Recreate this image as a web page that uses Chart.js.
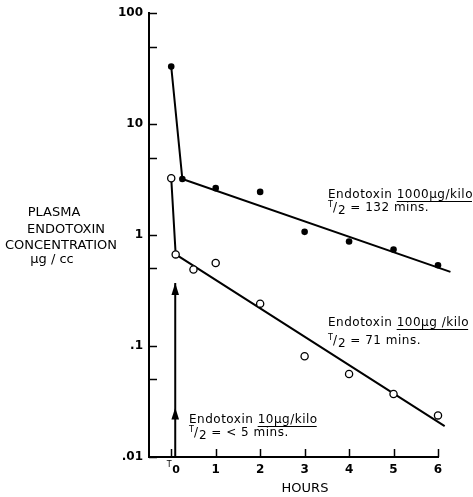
<!DOCTYPE html>
<html>
<head>
<meta charset="utf-8">
<script src="https://cdn.jsdelivr.net/npm/chart.js@4"></script>
<style>
  body { margin: 0; background: #fff; }
  #wrap { width: 473px; height: 497px; }
</style>
</head>
<body>
<div id="wrap"><canvas id="chart" width="473" height="497"></canvas></div>
<script>
// Endotoxin 1000 ug/kilo (filled dots)
const hours1000 = [0, 0.25, 1, 2, 3, 4, 5, 6];
const conc1000 = [33, 3.2, 2.65, 2.45, 1.07, 0.875, 0.74, 0.535];
// Endotoxin 100 ug/kilo (open circles)
const hours100 = [0, 0.1, 0.5, 1, 2, 3, 4, 5, 6];
const conc100 = [3.25, 0.67, 0.49, 0.56, 0.241, 0.081, 0.056, 0.037, 0.0237];
// fitted lines
const fitHours1000 = [0, 0.25, 6.28];
const fitConc1000 = [33, 3.2, 0.466];
const fitHours100 = [0, 0.1, 6.15];
const fitConc100 = [3.25, 0.67, 0.019];
// Endotoxin 10 ug/kilo (arrow)
const arrowHours = [0.09, 0.09];
const arrowConc = [0.01, 0.37];
const arrowTips = [0.37, 0.028];

const xTickValues = [0, 1, 2, 3, 4, 5, 6];
const yTickValues = [100, 50, 10, 5, 1, 0.5, 0.1, 0.05, 0.01];
const yTickLabels = {100: '100', 10: '10', 1: '1', 0.1: '.1', 0.01: '.01'};

const FONT = '"DejaVu Sans", sans-serif';

function pts(xs, ys) {
    return xs.map((x, i) => ({x: x, y: ys[i]}));
}

// draws inward ticks, arrow heads and all the hand-lettered text
const extras = {
    id: 'extras',
    afterDraw(chart) {
        const ctx = chart.ctx;
        const xs = chart.scales.x;
        const ys = chart.scales.y;
        const left = chart.chartArea.left;
        const bottom = chart.chartArea.bottom;
        ctx.save();
        ctx.strokeStyle = '#000';
        ctx.fillStyle = '#000';
        ctx.lineWidth = 1.5;

        // y ticks pointing inward
        yTickValues.forEach(v => {
            const py = Math.round(ys.getPixelForValue(v)) + 0.5;
            ctx.beginPath();
            ctx.moveTo(left, py);
            ctx.lineTo(left + 8, py);
            ctx.stroke();
        });
        // x ticks pointing inward
        xTickValues.forEach(v => {
            const px = Math.round(xs.getPixelForValue(v)) + 0.5;
            ctx.beginPath();
            ctx.moveTo(px, bottom);
            ctx.lineTo(px, bottom - 8);
            ctx.stroke();
        });

        // arrow heads on the 10 ug/kilo line
        arrowTips.forEach(v => {
            const px = xs.getPixelForValue(arrowHours[0]);
            const py = ys.getPixelForValue(v);
            ctx.beginPath();
            ctx.moveTo(px, py);
            ctx.lineTo(px - 3.8, py + 12);
            ctx.lineTo(px + 3.8, py + 12);
            ctx.closePath();
            ctx.fill();
        });

        // T0 label
        const t0 = xs.getPixelForValue(0);
        ctx.textBaseline = 'middle';
        ctx.textAlign = 'left';
        ctx.font = '8px ' + FONT;
        ctx.fillText('T', t0 - 4.5, 465);
        ctx.font = 'bold 11px ' + FONT;
        ctx.fillText('0', t0 + 1, 470);

        // HOURS
        ctx.textAlign = 'center';
        ctx.font = '13px ' + FONT;
        ctx.fillText('HOURS', 305, 489);

        // y title
        ctx.fillText('PLASMA', 54, 213);
        ctx.fillText('ENDOTOXIN', 66, 230);
        ctx.fillText('CONCENTRATION', 61, 245.5);
        ctx.fillText('\u03bcg / cc', 52, 260);

        // annotations
        drawNote(ctx, 328, 195, 208, '1000\u03bcg/kilo', ' = 132 mins.');
        drawNote(ctx, 328, 323, 341, '100\u03bcg /kilo', ' = 71 mins.');
        drawNote(ctx, 189, 420, 433, '10\u03bcg/kilo', ' = < 5 mins.');
        ctx.restore();
    }
};

function drawNote(ctx, x, y1, y2, dose, half) {
    ctx.textAlign = 'left';
    ctx.textBaseline = 'middle';
    ctx.letterSpacing = '0.5px';
    ctx.font = '12px ' + FONT;
    const head = 'Endotoxin ';
    ctx.fillText(head, x, y1);
    const dx = x + ctx.measureText(head).width;
    ctx.fillText(dose, dx, y1);
    const w = ctx.measureText(dose).width;
    ctx.lineWidth = 1;
    ctx.beginPath();
    ctx.moveTo(dx, y1 + 6.5);
    ctx.lineTo(dx + w - 1, y1 + 6.5);
    ctx.stroke();
    // T/2
    ctx.font = '8px ' + FONT;
    ctx.fillText('T', x, y2 - 3);
    ctx.font = '12px ' + FONT;
    ctx.fillText('/', x + 5, y2);
    ctx.fillText('2', x + 10, y2 + 3);
    ctx.fillText(half, x + 18, y2);
    ctx.letterSpacing = '0px';
}

new Chart(document.getElementById('chart'), {
    type: 'scatter',
    data: {
        datasets: [
            {
                label: 'Endotoxin 1000',
                data: pts(hours1000, conc1000),
                pointRadius: 3.3,
                backgroundColor: '#000',
                borderColor: '#000',
                borderWidth: 0,
                clip: false,
                order: 1
            },
            {
                label: 'Endotoxin 100',
                data: pts(hours100, conc100),
                pointRadius: 3.6,
                backgroundColor: '#fff',
                borderColor: '#000',
                borderWidth: 1.3,
                clip: false,
                order: 1
            },
            {
                label: 'Fit 1000',
                data: pts(fitHours1000, fitConc1000),
                showLine: true,
                pointRadius: 0,
                borderColor: '#000',
                borderWidth: 2,
                clip: false,
                order: 2
            },
            {
                label: 'Fit 100',
                data: pts(fitHours100, fitConc100),
                showLine: true,
                pointRadius: 0,
                borderColor: '#000',
                borderWidth: 2,
                clip: false,
                order: 2
            },
            {
                label: 'Endotoxin 10',
                data: pts(arrowHours, arrowConc),
                showLine: true,
                pointRadius: 0,
                borderColor: '#000',
                borderWidth: 2,
                clip: false,
                order: 2
            }
        ]
    },
    options: {
        responsive: false,
        animation: false,
        layout: { padding: { top: 13, right: 35, left: 0, bottom: 0 } },
        plugins: {
            legend: { display: false },
            tooltip: { enabled: false }
        },
        scales: {
            x: {
                type: 'linear',
                min: -0.5,
                max: 6,
                grid: { display: false, drawTicks: false },
                border: { display: true, color: '#000', width: 2 },
                afterBuildTicks: scale => { scale.ticks = xTickValues.map(v => ({value: v})); },
                afterFit: scale => { scale.height = 40; },
                ticks: {
                    autoSkip: false,
                    maxRotation: 0,
                    padding: 6,
                    color: '#000',
                    font: { family: FONT, size: 12, weight: 'bold' },
                    callback: v => (v === 0 ? '' : String(v))
                }
            },
            y: {
                type: 'logarithmic',
                min: 0.01,
                max: 100,
                grid: { display: false, drawTicks: false },
                border: { display: true, color: '#000', width: 2 },
                afterBuildTicks: scale => { scale.ticks = yTickValues.map(v => ({value: v})); },
                afterFit: scale => { scale.width = 149; },
                ticks: {
                    autoSkip: false,
                    padding: 6,
                    color: '#000',
                    font: { family: FONT, size: 12, weight: 'bold' },
                    callback: v => yTickLabels[v] || ''
                }
            }
        }
    },
    plugins: [extras]
});
</script>
</body>
</html>
